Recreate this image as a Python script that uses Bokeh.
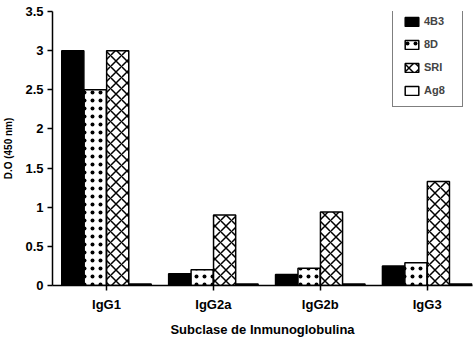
from bokeh.plotting import figure
from bokeh.models import Range1d, FixedTicker, ColumnDataSource, Legend, LegendItem
from bokeh.embed import file_html
from bokeh.resources import INLINE

categories = ["IgG1", "IgG2a", "IgG2b", "IgG3"]
series_names = ["4B3", "8D", "SRI", "Ag8"]
v_4B3 = [3.0, 0.15, 0.14, 0.25]
v_8D = [2.5, 0.20, 0.22, 0.29]
v_SRI = [3.0, 0.90, 0.94, 1.33]
v_Ag8 = [0.02, 0.02, 0.02, 0.02]
y_ticks = [0, 0.5, 1, 1.5, 2, 2.5, 3, 3.5]
y_tick_labels = ["0", "0.5", "1", "1.5", "2", "2.5", "3", "3.5"]

FONT = "Liberation Sans"

p = figure(width=475, height=339, output_backend="svg", toolbar_location=None,
           x_range=Range1d(-0.005, 3.924), y_range=Range1d(0, 3.5))
p.min_border_left = 52
p.min_border_right = 3
p.min_border_top = 11
p.min_border_bottom = 52
p.outline_line_color = None
p.grid.visible = False
p.background_fill_color = "white"

centers = [i + 0.5 for i in range(len(categories))]
offsets = [-0.315, -0.105, 0.105, 0.315]
bw = 0.207
styles = [
    dict(fill_color="black"),
    dict(fill_color="white", hatch_pattern="dot", hatch_color="black", hatch_scale=8, hatch_weight=0.7),
    dict(fill_color="white", hatch_pattern="diagonal_cross", hatch_color="black", hatch_scale=11, hatch_weight=1.5),
    dict(fill_color="white"),
]
renderers = []
for vals, off, st in zip([v_4B3, v_8D, v_SRI, v_Ag8], offsets, styles):
    src = ColumnDataSource(dict(x=[c + off for c in centers], top=vals))
    r = p.vbar(x="x", top="top", width=bw, source=src, line_color="black", line_width=1.5, **st)
    renderers.append(r)

legend = Legend(items=[LegendItem(label=n, renderers=[r]) for n, r in zip(series_names, renderers)],
                location=(340, 178))
legend.border_line_color = "black"
legend.border_line_width = 1.5
legend.label_text_font = FONT
legend.label_text_font_style = "bold"
legend.label_text_font_size = "11px"
legend.glyph_width = 17
legend.glyph_height = 11
legend.label_height = 12
legend.label_width = 28
legend.spacing = 11
legend.padding = 10
legend.margin = 0
legend.label_standoff = 4
legend.background_fill_alpha = 1
p.add_layout(legend)

p.xaxis.ticker = FixedTicker(ticks=centers)
p.xaxis.major_label_overrides = {c: n for c, n in zip(centers, categories)}
p.yaxis.ticker = FixedTicker(ticks=y_ticks)
p.yaxis.major_label_overrides = {t: l for t, l in zip(y_ticks, y_tick_labels)}

for ax in (p.xaxis[0], p.yaxis[0]):
    ax.axis_line_color = "black"
    ax.axis_line_width = 1.5
    ax.major_tick_line_color = "black"
    ax.major_tick_line_width = 1.5
    ax.major_tick_in = 0
    ax.major_tick_out = 5
    ax.minor_tick_line_color = None
    ax.major_label_text_font = FONT
    ax.major_label_text_font_style = "bold"
    ax.major_label_text_font_size = "13px"
    ax.major_label_text_color = "black"
    ax.axis_label_text_font = FONT
    ax.axis_label_text_font_style = "bold"
    ax.axis_label_text_color = "black"

p.xaxis.axis_label = "Subclase de Inmunoglobulina"
p.xaxis.axis_label_text_font_size = "13px"
p.xaxis.major_label_standoff = 6
p.xaxis.axis_label_standoff = 7
p.yaxis.axis_label = "D.O (450 nm)"
p.yaxis.axis_label_text_font_size = "10px"
p.yaxis.major_label_standoff = 4
p.yaxis.axis_label_standoff = 8

open("out.html", "w").write(file_html(p, INLINE))
